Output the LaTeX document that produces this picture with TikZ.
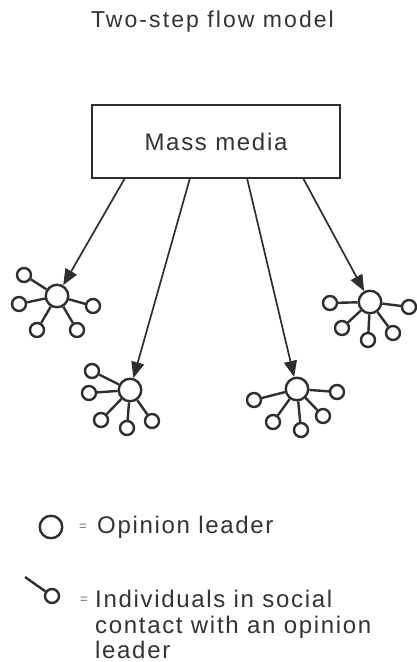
\documentclass[tikz,border=0pt]{standalone}
\usepackage{fontspec}
\setmainfont{Liberation Sans}
\newfontfamily\trkA[LetterSpace=9]{Liberation Sans}
\newfontfamily\trkB[LetterSpace=7]{Liberation Sans}
\usetikzlibrary{arrows.meta}
\definecolor{ink}{HTML}{2E2E2E}
\definecolor{txt}{HTML}{333333}
\begin{document}
\begin{tikzpicture}[x=1pt,y=-1pt,
  leader/.style={circle, draw=ink, line width=2.4pt, minimum size=22.5pt, inner sep=0pt, fill=white},
  member/.style={circle, draw=ink, line width=2.4pt, minimum size=14pt, inner sep=0pt, fill=white},
  tie/.style={draw=ink, line width=2.4pt},
  flow/.style={draw=ink, line width=1.7pt, -{Triangle[length=16pt,width=13pt]}},
  lab/.style={font=\trkB\fontsize{24}{26}\selectfont, text=txt, inner sep=0pt},
  eqs/.style={font=\fontsize{13}{14}\selectfont, text=txt!70, inner sep=0pt}]
\useasboundingbox (0,0) rectangle (416,662);

% title
\node[font=\trkA\fontsize{23}{25}\selectfont, text=txt, inner sep=0pt, anchor=base] (title) at (212.5,27) {Two-step flow model};

% mass media box
\node[draw=ink, line width=1.8pt, minimum width=248pt, minimum height=73pt, inner sep=0pt,
      font=\trkB\fontsize{24}{26}\selectfont, text=txt] (media) at (216,141.5) {Mass media};

% clusters
\foreach \n/\cx/\cy/\ax/\ay/\bx/\by/\ccx/\ccy/\dx/\dy/\ex/\ey in {
  1/57/296/24/275/19/304/37/330/77/330/93/306,
  2/130/390/92/371/89/393/101/420/127/428/152/421,
  3/370/302/330/303/409/307/342/328/368/340/393/333,
  4/297/389/254/400/337/392/273/422/301/430/323/416}{
  \node[leader] (L\n) at (\cx,\cy) {};
  \node[member] (M\n a) at (\ax,\ay) {};
  \node[member] (M\n b) at (\bx,\by) {};
  \node[member] (M\n c) at (\ccx,\ccy) {};
  \node[member] (M\n d) at (\dx,\dy) {};
  \node[member] (M\n e) at (\ex,\ey) {};
  \foreach \s in {a,b,c,d,e}{ \draw[tie] (L\n) -- (M\n\s); }
}

% arrows from mass media
\coordinate (s1) at (125,178);
\coordinate (s2) at (190,178);
\coordinate (s3) at (247,178);
\coordinate (s4) at (303,178);
\draw[flow] (s1) -- (L1);
\draw[flow] (s2) -- (L2);
\draw[flow] (s3) -- (L4);
\draw[flow] (s4) -- (L3);

% legend
\node[leader] (keyL) at (51,527) {};
\node[eqs] (eq1) at (83,527) {=};
\node[lab, anchor=base west] (lab1) at (97,533) {Opinion leader};

\coordinate (keyT) at (25,577);
\node[member] (keyM) at (52,596) {};
\draw[tie] (keyT) -- (keyM);
\node[eqs] (eq2) at (84,600) {=};
\node[lab, anchor=base west] (lab2a) at (95,607) {Individuals in social};
\node[lab, anchor=base west] (lab2b) at (95,633) {contact with an opinion};
\node[lab, anchor=base west] (lab2c) at (95,658) {leader};
\end{tikzpicture}
\end{document}
